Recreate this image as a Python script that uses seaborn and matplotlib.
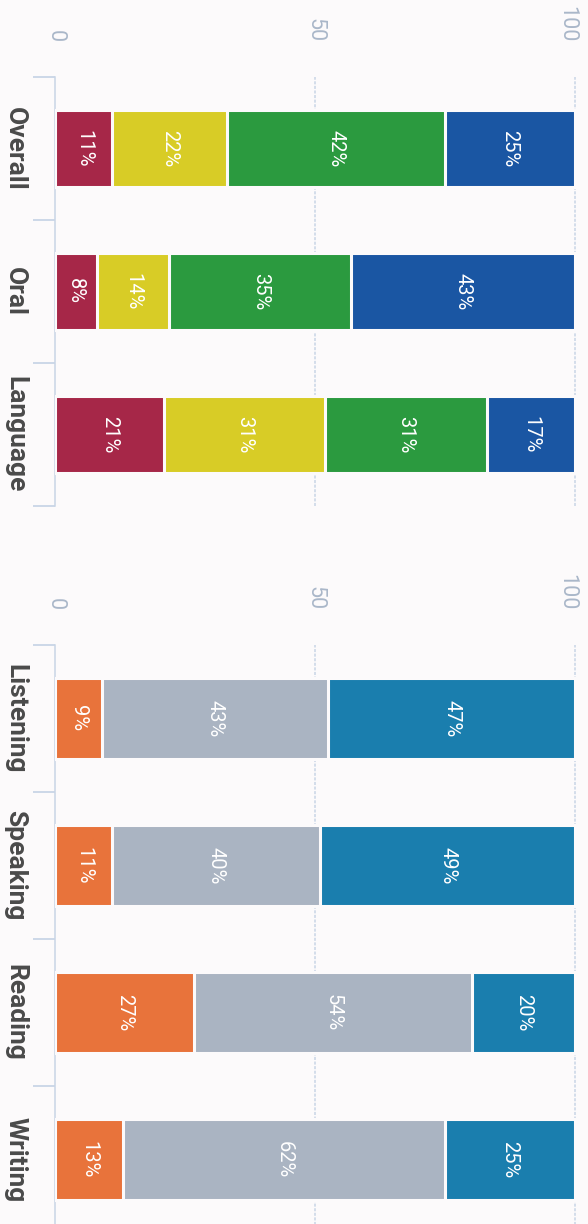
import numpy as np
import pandas as pd
import matplotlib
matplotlib.use("Agg")
import matplotlib.pyplot as plt
import matplotlib.transforms as mtransforms
import seaborn as sns

# top panel
top_cats = ["Overall", "Oral", "Language"]
top_red = [11, 8, 21]
top_yellow = [22, 14, 31]
top_green = [42, 35, 31]
top_blue = [25, 43, 17]

# bottom panel
bot_cats = ["Listening", "Speaking", "Reading", "Writing"]
bot_orange = [9, 11, 27, 13]
bot_gray = [43, 40, 54, 62]
bot_teal = [47, 49, 20, 25]

x_ticks = [0, 50, 100]

BG = "#fcfafb"
GRID = "#c9d5e6"
TICKTXT = "#aab7c9"
LABEL = "#4a4a4a"


def stacked(ax, cats, series, colors):
    vals = np.array(series, dtype=float)
    # 100% stacked: each bar scaled to its row total (labels keep the rounded figures)
    share = vals / vals.sum(axis=0) * 100
    cum = np.cumsum(share, axis=0)
    # draw cumulative bars from the full total down, so each segment sits on top
    for i in range(len(series) - 1, -1, -1):
        df = pd.DataFrame({"cat": cats, "val": cum[i]})
        sns.barplot(data=df, x="val", y="cat", orient="h", color=colors[i],
                    width=0.545, edgecolor=BG, linewidth=2.2, saturation=1,
                    ax=ax, zorder=3)
    for i in range(len(series)):
        left = cum[i] - share[i]
        for j, v in enumerate(series[i]):
            ax.text(left[j] + share[i][j] / 2, j, f"{v}%", rotation=-90,
                    ha="center", va="center", color="white", fontsize=14.5,
                    family="Roboto", zorder=5)


def style(ax, n, fig):
    ax.set_xlim(0, 100.4)
    ax.set_ylim(n - 0.5, -0.5)
    ax.set_facecolor(BG)
    ax.xaxis.tick_top()
    ax.set_xticks(x_ticks)
    ax.set_xticklabels([str(t) for t in x_ticks], rotation=-90,
                       color=TICKTXT, fontsize=15.5, family="Roboto")
    ax.tick_params(axis="x", length=0, pad=25)
    # pull the "100" label in a little from the right edge
    lab = ax.get_xticklabels()[-1]
    lab.set_transform(lab.get_transform() +
                      mtransforms.ScaledTranslation(-8 / 100, 0, fig.dpi_scale_trans))
    ax.set_yticks(range(n))
    ax.set_yticklabels(ax.get_yticklabels(), rotation=-90, va="center",
                       ha="right", fontsize=19, fontweight="bold",
                       color=LABEL, family="Roboto")
    ax.tick_params(axis="y", which="major", left=True, length=0, pad=20)
    ax.set_yticks(np.arange(-0.5, n, 1.0), minor=True)
    ax.tick_params(axis="y", which="minor", left=True, length=16, width=1.3,
                   color=GRID)
    for s in ["top", "right", "bottom"]:
        ax.spines[s].set_visible(False)
    ax.spines["left"].set_color(GRID)
    ax.spines["left"].set_linestyle((0, (2, 1)))
    ax.spines["left"].set_linewidth(1.1)
    for t in [50, 100]:
        ax.axvline(t, color=GRID, linestyle=(0, (2, 1)), linewidth=1.1, zorder=1)
    ax.set_xlabel("")
    ax.set_ylabel("")


sns.set_theme(style="white")
plt.rcParams["font.family"] = ["Roboto", "DejaVu Sans"]

W, H = 588, 1224
fig = plt.figure(figsize=(W / 100, H / 100), dpi=100, facecolor=BG)

left_px, right_px = 55, 577
ax1 = fig.add_axes([left_px / W, 1 - 506 / H, (right_px - left_px) / W, 429 / H])
ax2 = fig.add_axes([left_px / W, 1 - 1233 / H, (right_px - left_px) / W, 588 / H])

stacked(ax1, top_cats, [top_red, top_yellow, top_green, top_blue],
        ["#a62748", "#d8cc26", "#2b9a3f", "#1a56a3"])
stacked(ax2, bot_cats, [bot_orange, bot_gray, bot_teal],
        ["#e8733b", "#aab4c2", "#1a7eae"])

style(ax1, len(top_cats), fig)
style(ax2, len(bot_cats), fig)

fig.savefig("out.png", dpi=100, facecolor=BG)
